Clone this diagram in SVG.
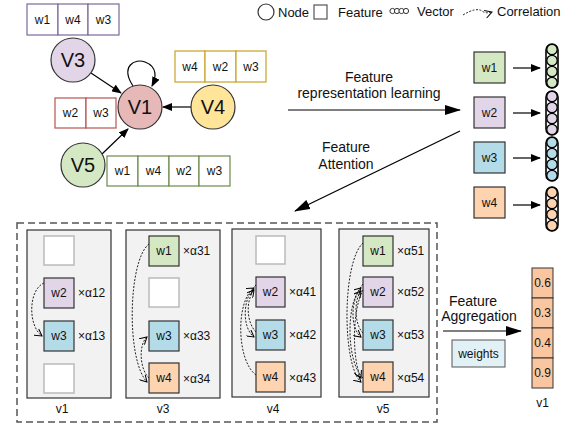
<svg xmlns="http://www.w3.org/2000/svg" width="570" height="428" viewBox="0 0 570 428">
<defs>
<marker id="arr" markerWidth="10" markerHeight="8" refX="9" refY="4" orient="auto" markerUnits="userSpaceOnUse">
<path d="M0,0 L10,4 L0,8 Z" fill="#000"/>
</marker>
<marker id="arrL" markerWidth="16" markerHeight="10" refX="15" refY="5" orient="auto" markerUnits="userSpaceOnUse">
<path d="M0,0 L16,5 L0,10 Z" fill="#000"/>
</marker>
<marker id="open" markerWidth="8" markerHeight="8" refX="7" refY="4" orient="auto" markerUnits="userSpaceOnUse">
<path d="M0,0 L7,4 L0,8" fill="none" stroke="#000" stroke-width="1"/>
</marker>
<style>
text{font-family:"Liberation Sans",Arial,sans-serif;fill:#111}
.t12{font-size:12px}
.t13{font-size:13px}
.t14{font-size:14px}
.cell{fill:#fff;stroke-width:1.2}
.node{stroke:#333;stroke-width:1.2}
.fb{stroke:#333;stroke-width:1.2}
.empty{fill:#fff;stroke:#bbb;stroke-width:1.5}
.panel{fill:#f2f2f2;stroke:#333;stroke-width:1.2}
.corr{fill:none;stroke:#222;stroke-width:1;stroke-dasharray:2,1.5}
.line{stroke:#000;stroke-width:1.2;fill:none}
.g{fill:#d5e8c4}.p{fill:#e1d5e7}.b{fill:#b4dce8}.o{fill:#fdd3b0}
</style>
</defs>
<rect width="570" height="428" fill="#fff"/>

<!-- Legend -->
<g id="legend">
<circle cx="266" cy="12" r="8" fill="#fff" stroke="#333" stroke-width="1.2"/>
<text x="278" y="17" class="t13">Node</text>
<rect x="314" y="5" width="13" height="14" fill="#fff" stroke="#555" stroke-width="1.2"/>
<text x="338" y="17" class="t13">Feature</text>
<g fill="#fff" stroke="#333" stroke-width="1">
<circle cx="392.5" cy="11" r="2.6"/><circle cx="397" cy="11" r="2.6"/><circle cx="401.5" cy="11" r="2.6"/><circle cx="406" cy="11" r="2.6"/>
</g>
<text x="417" y="16" class="t13">Vector</text>
<path d="M463,15 Q476,7 482,11 Q486,14 492,12" class="corr" stroke="#666" marker-end="url(#open)"/>
<text x="497" y="16" class="t13">Correlation</text>
</g>

<!-- Graph features -->
<g id="feat-v3">
<rect x="27" y="4" width="31" height="31" class="cell" stroke="#7b6a9c"/>
<rect x="58" y="4" width="30" height="31" class="cell" stroke="#7b6a9c"/>
<rect x="88" y="4" width="31" height="31" class="cell" stroke="#7b6a9c"/>
<text x="42.5" y="24" class="t12" text-anchor="middle">w1</text>
<text x="73" y="24" class="t12" text-anchor="middle">w4</text>
<text x="103.5" y="24" class="t12" text-anchor="middle">w3</text>
</g>
<g id="feat-v4">
<rect x="175" y="51" width="30" height="31" class="cell" stroke="#c9a227"/>
<rect x="205" y="51" width="31" height="31" class="cell" stroke="#c9a227"/>
<rect x="236" y="51" width="30" height="31" class="cell" stroke="#c9a227"/>
<text x="190" y="71" class="t12" text-anchor="middle">w4</text>
<text x="220.5" y="71" class="t12" text-anchor="middle">w2</text>
<text x="251" y="71" class="t12" text-anchor="middle">w3</text>
</g>
<g id="feat-v1">
<rect x="55" y="98" width="31" height="30" class="cell" stroke="#b85450"/>
<rect x="86" y="98" width="30" height="30" class="cell" stroke="#b85450"/>
<text x="70.5" y="117" class="t12" text-anchor="middle">w2</text>
<text x="101" y="117" class="t12" text-anchor="middle">w3</text>
</g>
<g id="feat-v5">
<rect x="107" y="156" width="31" height="30" class="cell" stroke="#6d8a4a"/>
<rect x="138" y="156" width="31" height="30" class="cell" stroke="#6d8a4a"/>
<rect x="169" y="156" width="30" height="30" class="cell" stroke="#6d8a4a"/>
<rect x="199" y="156" width="31" height="30" class="cell" stroke="#6d8a4a"/>
<text x="122.5" y="175" class="t12" text-anchor="middle">w1</text>
<text x="153.5" y="175" class="t12" text-anchor="middle">w4</text>
<text x="184" y="175" class="t12" text-anchor="middle">w2</text>
<text x="214.5" y="175" class="t12" text-anchor="middle">w3</text>
</g>

<!-- Connectors -->
<g id="connectors">
<line x1="91" y1="73" x2="121" y2="93" class="line" marker-end="url(#arr)"/>
<line x1="191" y1="107" x2="163" y2="107" class="line" marker-end="url(#arr)"/>
<line x1="102" y1="154" x2="128" y2="129" class="line" marker-end="url(#arr)"/>
<path d="M133,86 C120,66 135,58 145,62 C158,67 156,78 152,86" class="line" marker-end="url(#arr)"/>
<line x1="288" y1="110" x2="460" y2="110" class="line" marker-end="url(#arrL)"/>
<line x1="460" y1="131" x2="295" y2="211" class="line" marker-end="url(#arrL)"/>
<line x1="513" y1="68" x2="540" y2="68" class="line" marker-end="url(#arr)"/>
<line x1="513" y1="113" x2="540" y2="113" class="line" marker-end="url(#arr)"/>
<line x1="513" y1="158" x2="540" y2="158" class="line" marker-end="url(#arr)"/>
<line x1="513" y1="205" x2="540" y2="205" class="line" marker-end="url(#arr)"/>
<line x1="443" y1="331" x2="521" y2="331" class="line" marker-end="url(#arrL)"/>
</g>

<!-- Graph nodes -->
<g id="node-V3"><circle cx="73" cy="60" r="22" class="node" fill="#e1d5e7"/><text x="73" y="67" font-size="20" text-anchor="middle">V3</text></g>
<g id="node-V1"><circle cx="140" cy="107" r="22" class="node" fill="#e6b8b7"/><text x="140" y="114" font-size="20" text-anchor="middle">V1</text></g>
<g id="node-V4"><circle cx="213" cy="107" r="22" class="node" fill="#ffe599"/><text x="213" y="114" font-size="20" text-anchor="middle">V4</text></g>
<g id="node-V5"><circle cx="83" cy="165" r="22" class="node" fill="#d5e8c4"/><text x="83" y="172" font-size="20" text-anchor="middle">V5</text></g>

<!-- Labels -->
<text x="369" y="82" class="t14" text-anchor="middle">Feature</text>
<text x="369" y="98" class="t14" text-anchor="middle">representation learning</text>
<text x="346" y="152" class="t14" text-anchor="middle">Feature</text>
<text x="346" y="169" class="t14" text-anchor="middle">Attention</text>

<!-- Right feature vectors -->
<g id="rf-w1"><rect x="474" y="52" width="31" height="31" class="fb g"/><text x="489.5" y="72" class="t12" text-anchor="middle">w1</text></g>
<g id="rf-w2"><rect x="474" y="97" width="31" height="31" class="fb p"/><text x="489.5" y="117" class="t12" text-anchor="middle">w2</text></g>
<g id="rf-w3"><rect x="474" y="142" width="31" height="31" class="fb b"/><text x="489.5" y="162" class="t12" text-anchor="middle">w3</text></g>
<g id="rf-w4"><rect x="474" y="187" width="31" height="31" class="fb o"/><text x="489.5" y="207" class="t12" text-anchor="middle">w4</text></g>

<g id="vec-w1" stroke="#000" stroke-width="1.3">
<rect x="546" y="44" width="12" height="44" rx="6" fill="none" stroke-width="1.6"/>
<circle cx="552" cy="49.5" r="5.2" class="g"/><circle cx="552" cy="60.5" r="5.2" class="g"/><circle cx="552" cy="71.5" r="5.2" class="g"/><circle cx="552" cy="82.5" r="5.2" class="g"/>
</g>
<g id="vec-w2" stroke="#000" stroke-width="1.3">
<rect x="546" y="91" width="12" height="44" rx="6" fill="none" stroke-width="1.6"/>
<circle cx="552" cy="96.5" r="5.2" class="p"/><circle cx="552" cy="107.5" r="5.2" class="p"/><circle cx="552" cy="118.5" r="5.2" class="p"/><circle cx="552" cy="129.5" r="5.2" class="p"/>
</g>
<g id="vec-w3" stroke="#000" stroke-width="1.3">
<rect x="546" y="137" width="12" height="44" rx="6" fill="none" stroke-width="1.6"/>
<circle cx="552" cy="142.5" r="5.2" class="b"/><circle cx="552" cy="153.5" r="5.2" class="b"/><circle cx="552" cy="164.5" r="5.2" class="b"/><circle cx="552" cy="175.5" r="5.2" class="b"/>
</g>
<g id="vec-w4" stroke="#000" stroke-width="1.3">
<rect x="546" y="187" width="12" height="44" rx="6" fill="none" stroke-width="1.6"/>
<circle cx="552" cy="192.5" r="5.2" class="o"/><circle cx="552" cy="203.5" r="5.2" class="o"/><circle cx="552" cy="214.5" r="5.2" class="o"/><circle cx="552" cy="225.5" r="5.2" class="o"/>
</g>

<!-- Attention area -->
<rect x="17" y="223" width="420" height="199" fill="none" stroke="#555" stroke-width="1.5" stroke-dasharray="7,4"/>

<g id="panel-v1">
<rect x="27" y="230" width="84" height="168" class="panel"/>
<rect x="44" y="236" width="30" height="29" class="empty"/>
<rect x="44" y="278" width="30" height="30" class="fb p"/><text x="59" y="297" class="t12" text-anchor="middle">w2</text>
<rect x="44" y="321" width="30" height="30" class="fb b"/><text x="59" y="340" class="t12" text-anchor="middle">w3</text>
<rect x="44" y="364" width="30" height="29" class="empty"/>
<text x="78" y="297" class="t12">×α12</text>
<text x="78" y="340" class="t12">×α13</text>
<path d="M44,283 C28,290 28,326 42,336" class="corr" marker-end="url(#open)"/>
<text x="62" y="413" class="t12" text-anchor="middle">v1</text>
</g>

<g id="panel-v3">
<rect x="126" y="230" width="94" height="168" class="panel"/>
<rect x="149" y="236" width="30" height="30" class="fb g"/><text x="164" y="255" class="t12" text-anchor="middle">w1</text>
<rect x="149" y="278" width="30" height="29" class="empty"/>
<rect x="149" y="321" width="30" height="30" class="fb b"/><text x="164" y="340" class="t12" text-anchor="middle">w3</text>
<rect x="149" y="363" width="30" height="30" class="fb o"/><text x="164" y="382" class="t12" text-anchor="middle">w4</text>
<text x="183" y="255" class="t12">×α31</text>
<text x="183" y="340" class="t12">×α33</text>
<text x="183" y="383" class="t12">×α34</text>
<path d="M149,244 C128,260 126,360 147,382" class="corr" marker-end="url(#open)"/>
<path d="M149,378 C140,370 138,345 147,337" class="corr" marker-end="url(#open)"/>
<text x="163" y="413" class="t12" text-anchor="middle">v3</text>
</g>

<g id="panel-v4">
<rect x="232" y="229" width="89" height="168" class="panel"/>
<rect x="256" y="236" width="29" height="28" class="empty"/>
<rect x="256" y="277" width="29" height="30" class="fb p"/><text x="270.5" y="296" class="t12" text-anchor="middle">w2</text>
<rect x="256" y="320" width="29" height="30" class="fb b"/><text x="270.5" y="339" class="t12" text-anchor="middle">w3</text>
<rect x="256" y="362" width="29" height="30" class="fb o"/><text x="270.5" y="381" class="t12" text-anchor="middle">w4</text>
<text x="289" y="296" class="t12">×α41</text>
<text x="289" y="339" class="t12">×α42</text>
<text x="289" y="382" class="t12">×α43</text>
<path d="M256,375 C236,360 236,300 254,288" class="corr" marker-end="url(#open)"/>
<path d="M256,285 C242,298 242,328 254,337" class="corr" marker-end="url(#open)"/>
<path d="M256,332 C246,322 246,300 254,290" class="corr" marker-end="url(#open)"/>
<text x="273" y="413" class="t12" text-anchor="middle">v4</text>
</g>

<g id="panel-v5">
<rect x="339" y="229" width="90" height="168" class="panel"/>
<rect x="363" y="236" width="30" height="30" class="fb g"/><text x="378" y="255" class="t12" text-anchor="middle">w1</text>
<rect x="363" y="277" width="30" height="30" class="fb p"/><text x="378" y="296" class="t12" text-anchor="middle">w2</text>
<rect x="363" y="320" width="30" height="30" class="fb b"/><text x="378" y="339" class="t12" text-anchor="middle">w3</text>
<rect x="363" y="362" width="30" height="30" class="fb o"/><text x="378" y="381" class="t12" text-anchor="middle">w4</text>
<text x="397" y="255" class="t12">×α51</text>
<text x="397" y="296" class="t12">×α52</text>
<text x="397" y="339" class="t12">×α53</text>
<text x="397" y="382" class="t12">×α54</text>
<path d="M363,243 C342,262 342,365 361,382" class="corr" marker-end="url(#open)"/>
<path d="M363,378 C346,362 346,302 361,288" class="corr" marker-end="url(#open)"/>
<path d="M363,284 C350,300 350,328 361,337" class="corr" marker-end="url(#open)"/>
<path d="M363,333 C354,324 354,300 361,291" class="corr" marker-end="url(#open)"/>
<path d="M363,290 C352,310 352,360 361,378" class="corr" marker-end="url(#open)"/>
<text x="383" y="413" class="t12" text-anchor="middle">v5</text>
</g>

<!-- Aggregation -->
<text x="473" y="306" class="t14" text-anchor="middle">Feature</text>
<text x="479" y="321" class="t14" text-anchor="middle">Aggregation</text>
<g id="weights">
<rect x="452" y="340" width="53" height="27" fill="#e2f1f6" stroke="#555" stroke-width="1"/>
<text x="478.5" y="358" class="t12" text-anchor="middle">weights</text>
</g>
<g id="out-v1">
<rect x="532" y="268" width="21" height="30" fill="#fac6a0" stroke="#333" stroke-width="1"/>
<rect x="532" y="298" width="21" height="30" fill="#fac6a0" stroke="#333" stroke-width="1"/>
<rect x="532" y="328" width="21" height="30" fill="#fac6a0" stroke="#333" stroke-width="1"/>
<rect x="532" y="358" width="21" height="30" fill="#fac6a0" stroke="#333" stroke-width="1"/>
<text x="542.5" y="287" class="t12" text-anchor="middle">0.6</text>
<text x="542.5" y="317" class="t12" text-anchor="middle">0.3</text>
<text x="542.5" y="347" class="t12" text-anchor="middle">0.4</text>
<text x="542.5" y="377" class="t12" text-anchor="middle">0.9</text>
<text x="542.5" y="407" class="t12" text-anchor="middle">v1</text>
</g>
</svg>
